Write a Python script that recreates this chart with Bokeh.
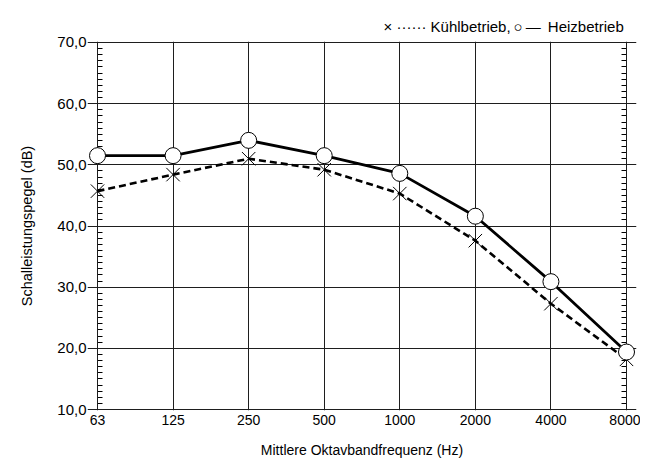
from bokeh.plotting import figure
from bokeh.models import FixedTicker, LinearAxis, ColumnDataSource
from bokeh.embed import file_html
from bokeh.resources import INLINE

# Data
freq_labels = ["63", "125", "250", "500", "1000", "2000", "4000", "8000"]
heizbetrieb = [51.5, 51.5, 54.0, 51.5, 48.6, 41.6, 30.9, 19.4]
kuehlbetrieb = [45.7, 48.4, 51.0, 49.2, 45.3, 37.6, 27.3, 18.2]
y_ticks = [10, 20, 30, 40, 50, 60, 70]
y_tick_labels = ["10,0", "20,0", "30,0", "40,0", "50,0", "60,0", "70,0"]
legend_text = "×  ······  Kühlbetrieb,\u2009○\u2009—\u2009 Heizbetrieb"

FONT = "Liberation Sans"
x_pos = list(range(len(freq_labels)))
n = len(freq_labels) - 1

src = ColumnDataSource(dict(x=x_pos, heiz=heizbetrieb, kuehl=kuehlbetrieb))

W, H = 640, 460
FL, FR, FT, FB = 87, 636, 41, 413          # frame edges in canvas px
PADX = 10 * n / ((FR - FL) - 20)           # 10 px room so edge markers are not clipped
PADY = 1 * 60 / ((FB - FT) - 2)            # 1 px so the 70 / 10 lines are drawn fully

p = figure(width=W, height=H, x_range=(-PADX, n + PADX), y_range=(10 - PADY, 70 + PADY),
           output_backend="svg", toolbar_location=None,
           min_border_left=FL, min_border_right=W - FR, min_border_top=FT,
           min_border_bottom=H - FB)
p.background_fill_color = "white"
p.border_fill_color = "white"
p.outline_line_color = None

yticker = FixedTicker(ticks=y_ticks, minor_ticks=list(range(10, 71)))
xticker = FixedTicker(ticks=x_pos)

# grid (forms the box too)
p.xgrid.ticker = xticker
p.ygrid.ticker = yticker
p.xgrid.bounds = (10, 70)
p.ygrid.bounds = (0, n)
for g in (p.xgrid, p.ygrid):
    g.grid_line_color = "#1e1e1e"
    g.grid_line_width = 1
    g.grid_line_alpha = 1

# x axis
xa = p.xaxis[0]
xa.ticker = xticker
xa.major_label_overrides = {i: lab for i, lab in zip(x_pos, freq_labels)}
xa.axis_label = "Mittlere Oktavbandfrequenz (Hz)"
xa.major_tick_in = 0
xa.major_tick_out = 0
xa.minor_tick_in = 0
xa.minor_tick_out = 0
xa.major_label_standoff = 4
xa.axis_label_standoff = 14
xa.axis_line_color = None

# y axis: labels only
ya = p.yaxis[0]
ya.ticker = yticker
ya.major_label_overrides = {t: l for t, l in zip(y_ticks, y_tick_labels)}
ya.axis_label = "Schalleistungspegel (dB)"
ya.major_tick_in = 0
ya.major_tick_out = 0
ya.minor_tick_in = 0
ya.minor_tick_out = 0
ya.major_label_standoff = 1
ya.axis_label_standoff = 19
ya.axis_line_color = None

for ax in (xa, ya):
    ax.major_label_text_font = FONT
    ax.axis_label_text_font = FONT
    ax.axis_label_text_font_style = "normal"
    ax.major_label_text_color = "black"
    ax.axis_label_text_color = "black"
xa.axis_label_text_font_size = "14px"
ya.axis_label_text_font_size = "14.5px"
xa.major_label_text_font_size = "14px"
ya.major_label_text_font_size = "15px"


def tick_axis():
    # unlabeled axis drawing the inward minor ticks from the 63 / 8000 gridlines,
    # below the markers
    a = LinearAxis(ticker=yticker, major_label_text_font_size="0px", major_label_standoff=0,
                   major_tick_in=0, major_tick_out=0, minor_tick_in=15, minor_tick_out=-10,
                   minor_tick_line_color="black", axis_line_color=None, level="underlay")
    a.major_label_overrides = {t: "" for t in y_ticks}
    return a


p.left = [tick_axis(), ya]
p.add_layout(tick_axis(), "right")

# series
p.line("x", "kuehl", source=src, line_color="black", line_width=2.6, line_dash="7 4")
p.scatter("x", "kuehl", source=src, marker="x", size=19, line_color="black", line_width=1)
p.line("x", "heiz", source=src, line_color="black", line_width=2.8)
p.scatter("x", "heiz", source=src, marker="circle", size=16, fill_color="white",
          line_color="black", line_width=1)

# legend line as the title (top right)
p.title.text = legend_text
p.title.align = "left"
p.title.offset = 383 - FL
p.title.text_font = FONT
p.title.text_font_size = "15px"
p.title.text_font_style = "normal"
p.title.text_color = "black"
p.title.standoff = 14

open("out.html", "w").write(file_html(p, INLINE))
